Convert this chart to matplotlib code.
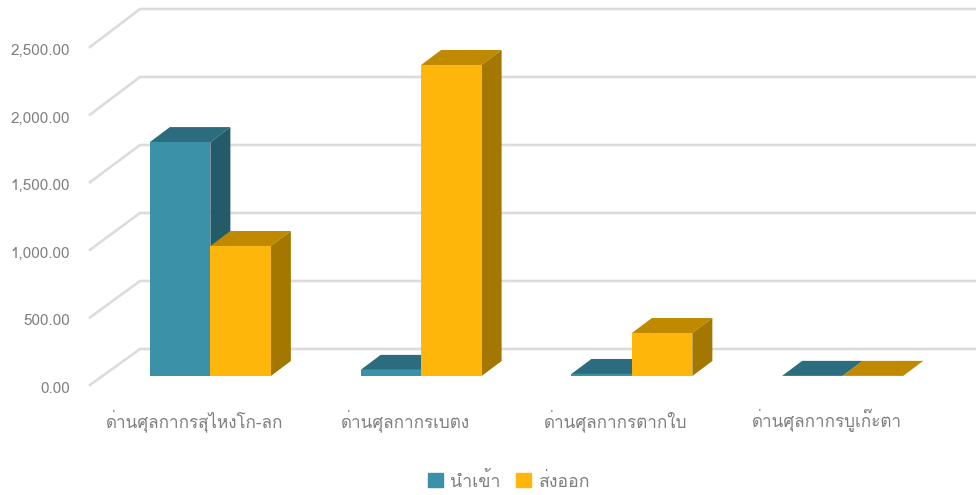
import matplotlib
matplotlib.use("Agg")
import matplotlib.pyplot as plt
from matplotlib.patches import Patch
from matplotlib import font_manager as fm

# ฟอนต์ที่มีอักษรไทย
thai_fonts = []
for f in fm.fontManager.ttflist:
    try:
        if 0x0E01 in fm.get_font(f.fname).get_charmap() and f.name not in thai_fonts:
            thai_fonts.append(f.name)
    except Exception:
        pass
plt.rcParams['font.family'] = thai_fonts + ['Open Sans', 'DejaVu Sans']

# data
categories = ["ด่านศุลกากรสุไหงโก-ลก", "ด่านศุลกากรเบตง", "ด่านศุลกากรตากใบ", "ด่านศุลกากรบูเก๊ะตา"]
imports = [1720, 45, 15, 1]
exports = [956, 2287, 316, 1]
grid_values = [0, 500, 1000, 1500, 2000, 2500]
series_names = ["นำเข้า", "ส่งออก"]

# front / top / side colours
import_colors = ("#3A91A8", "#2B6D7E", "#245B69")
export_colors = ("#FFB60A", "#C08A00", "#A37700")
grid_color = "#DCDCDC"
text_color = "#7F7F7F"

bar_w = 0.287
depth_x = 20 / 210.7
depth_y = 15 / 0.136

fig = plt.figure(figsize=(9.76, 4.95), dpi=100)
ax = fig.add_axes([105 / 976, 1 - 376 / 495, 843 / 976, 367 / 495])
for s in ax.spines.values():
    s.set_visible(False)

# gridlines: front-left corner -> back wall -> right edge
front_off = -9 / 0.136
back_off = 27 / 0.136
front_scale = 0.994  # front edge is a little shorter than the back wall
x_front = -0.5 + (90 - 105) / 210.75
x_back = -0.5 + (140 - 105) / 210.75
x_end = -0.5 + (976 - 105) / 210.75
for v in grid_values:
    ax.plot([x_front, x_back, x_end], [v * front_scale + front_off, v + back_off, v + back_off],
            color=grid_color, lw=1.9, clip_on=False, zorder=1, solid_joinstyle="miter")


def draw_bars(xs, values, colors, z):
    front, top, side = colors
    ax.bar(xs, values, width=bar_w, align="edge", color=front, zorder=z + 0.2)
    for x, v in zip(xs, values):
        ax.fill([x, x + depth_x, x + bar_w + depth_x, x + bar_w],
                [v, v + depth_y, v + depth_y, v], color=top, lw=0, clip_on=False, zorder=z)
        ax.fill([x + bar_w, x + bar_w + depth_x, x + bar_w + depth_x, x + bar_w],
                [0, depth_y, v + depth_y, v], color=side, lw=0, clip_on=False, zorder=z + 0.1)


pos = list(range(len(categories)))
draw_bars([p - bar_w for p in pos], imports, import_colors, 2)
draw_bars(pos, exports, export_colors, 3)

label_shift = -16 / 210.75
ax.set_xticks([p + label_shift for p in pos])
ax.set_xticklabels(categories, fontsize=12.3, color=text_color)
ax.tick_params(axis="x", length=0, pad=23.5)
ax.set_yticks([])
# value labels sit below the axes bottom too, so they are plain text
x_label = -0.5 + (70 - 105) / 210.75
label_off = -13 / 0.136
for v in grid_values:
    ax.text(x_label, v * front_scale + label_off, f"{v:,.2f}", ha="right", va="center",
            fontsize=11, color=text_color, clip_on=False)
ax.set_xlim(-0.5, 3.5)
ax.set_ylim(0, 367 / 0.136)

handles = [Patch(color=import_colors[0]), Patch(color=export_colors[0])]
fig.legend(handles, series_names, loc="center", bbox_to_anchor=(509 / 976, 1 - 481 / 495), ncol=2,
           frameon=False, fontsize=12.8, labelcolor=text_color, handlelength=0.82, handleheight=0.82,
           handletextpad=0.42, columnspacing=0.9)

fig.savefig("out.png", dpi=100)
